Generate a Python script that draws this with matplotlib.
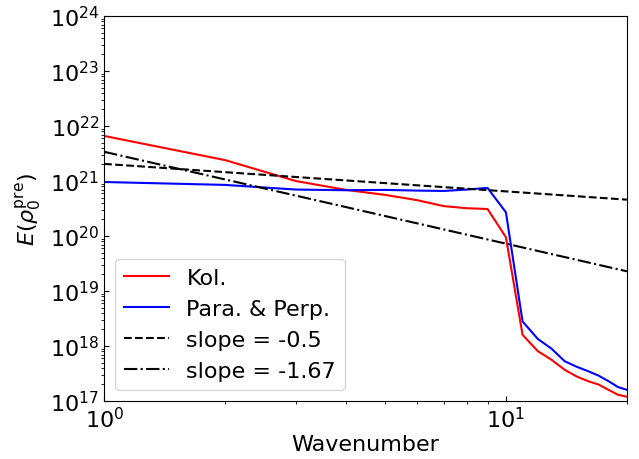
import numpy as np
import matplotlib
matplotlib.use("Agg")
import matplotlib.pyplot as plt

# wavenumbers and spectra
k = np.arange(1, 21)
kol = [6.6e21, 2.4e21, 1.0e21, 6.9e20, 5.6e20, 4.5e20, 3.5e20, 3.2e20, 3.1e20, 9.5e19,
       1.6e18, 8.1e17, 5.6e17, 3.7e17, 2.8e17, 2.3e17, 2.0e17, 1.6e17, 1.3e17, 1.2e17]
para_perp = [9.6e20, 8.5e20, 7.0e20, 6.8e20, 6.9e20, 6.7e20, 6.6e20, 7.0e20, 7.5e20, 2.7e20,
             2.8e18, 1.35e18, 8.9e17, 5.3e17, 4.2e17, 3.5e17, 2.9e17, 2.3e17, 1.8e17, 1.6e17]

# reference power-law slopes and their amplitudes at k = 1
slopes = [-0.5, -1.67]
amps = [2.05e21, 3.4e21]
styles = ['--', '-.']

plt.rcParams['font.size'] = 16

fig = plt.figure(figsize=(6.39, 4.6), dpi=100)
ax = fig.add_axes([0.163, 0.126, 0.818, 0.837])

ax.loglog(k, kol, 'r', label='Kol.')
ax.loglog(k, para_perp, 'b', label='Para. & Perp.')
for s, a, ls in zip(slopes, amps, styles):
    ax.loglog(k, a * k.astype(float) ** s, 'k' + ls, label='slope = %g' % s)

ax.set_xlim(1, 20)
ax.set_ylim(1e17, 1e24)
ax.set_xlabel('Wavenumber', labelpad=2)
ax.set_ylabel(r'$E(\rho_0^{\rm pre})$')
ax.tick_params(which='major', direction='in')
ax.tick_params(which='minor', direction='out')
ax.legend(loc='lower left')

plt.savefig('out.png')
